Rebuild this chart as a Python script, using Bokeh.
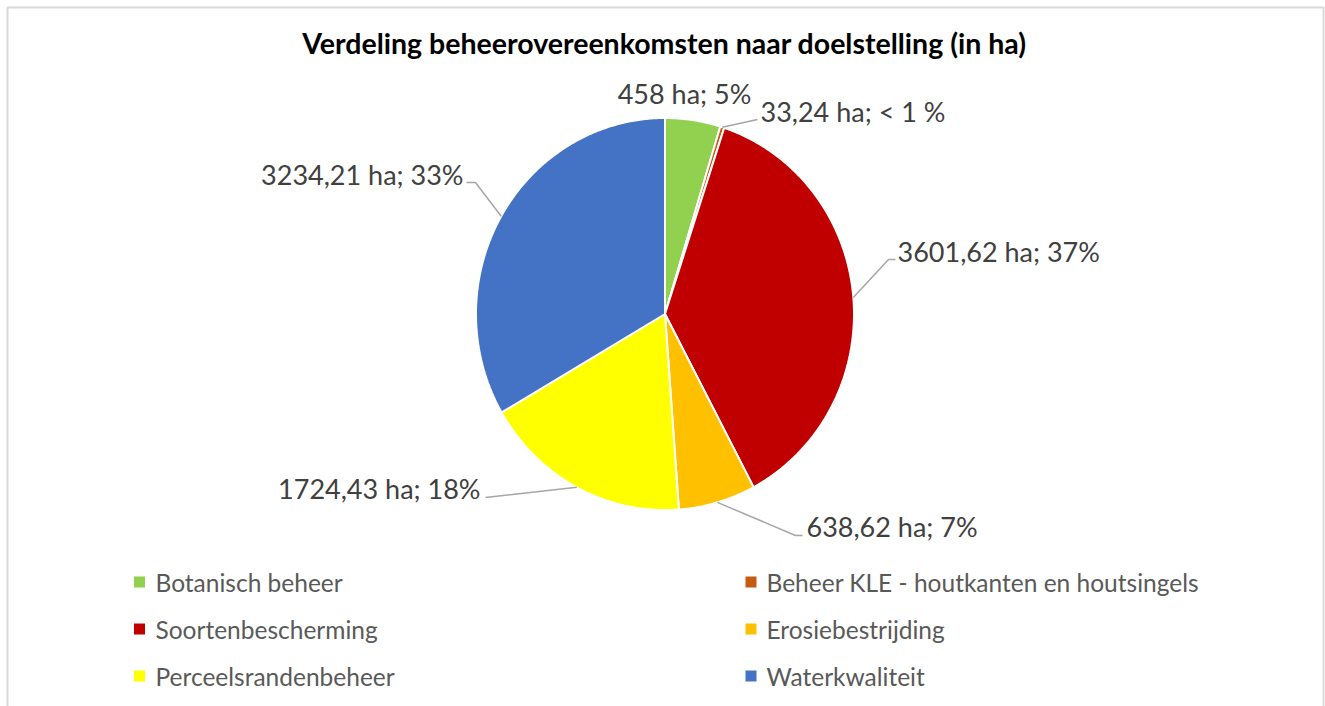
import numpy as np
from bokeh.plotting import figure
from bokeh.models import Range1d, ColumnDataSource
from bokeh.core.properties import value
from bokeh.embed import file_html
from bokeh.resources import INLINE

# ---------------- data ----------------
title_text = "Verdeling beheerovereenkomsten naar doelstelling (in ha)"
categories = ["Botanisch beheer", "Beheer KLE - houtkanten en houtsingels",
              "Soortenbescherming", "Erosiebestrijding",
              "Perceelsrandenbeheer", "Waterkwaliteit"]
values_ha = [458.0, 33.24, 3601.62, 638.62, 1724.43, 3234.21]
value_labels = ["458 ha", "33,24 ha", "3601,62 ha", "638,62 ha", "1724,43 ha", "3234,21 ha"]
pct_labels = ["5%", "< 1 %", "37%", "7%", "18%", "33%"]
colors = ["#92D050", "#C55A11", "#C00000", "#FFC000", "#FFFF00", "#4472C4"]

# ---------------- layout (screen pixels) ----------------
W, H = 1325, 706
CX, CY = 664.5, 313.5
RX, RY = 189.0, 196.0
FONT = "Lato"
TXT_DY = -9.5   # compensation for baseline placement

# label anchor (x, baseline y, align)
label_pos = [(684, 102, "center"), (760, 120, "left"), (897, 260, "left"),
             (806, 535, "left"), (480, 497, "right"), (463, 183, "right")]
# leader line points after the slice edge point
leader_pts = [[], [(757, 119)], [(888, 259), (895, 259)],
              [(795, 535), (802, 535)], [(485, 497)], [(475, 182), (466, 182)]]

p = figure(width=W, height=H, output_backend="svg", toolbar_location=None,
           x_range=Range1d(0, W), y_range=Range1d(H, 0),
           x_axis_location=None, y_axis_location=None,
           min_border=0, min_border_left=0, min_border_right=0,
           min_border_top=0, min_border_bottom=0)
p.grid.visible = False
p.outline_line_color = None
p.background_fill_color = "white"
p.border_fill_color = "white"

# ---------------- pie slices ----------------
vals = np.array(values_ha)
frac = vals / vals.sum()
ends = np.cumsum(frac)
starts = ends - frac
xs, ys = [], []
for s, e in zip(starts, ends):
    n = max(4, int((e - s) * 720))
    t = np.linspace(s, e, n) * 2 * np.pi
    xs.append(list(np.concatenate([[CX], CX + RX * np.sin(t), [CX]])))
    ys.append(list(np.concatenate([[CY], CY - RY * np.cos(t), [CY]])))
p.patches(xs, ys, fill_color=colors, line_color="white", line_width=2)

# ---------------- leader lines ----------------
mids = (starts + ends) / 2 * 2 * np.pi
lx, ly = [], []
for i, m in enumerate(mids):
    if not leader_pts[i]:
        continue
    ex, ey = CX + RX * np.sin(m), CY - RY * np.cos(m)
    lx.append([ex] + [q[0] for q in leader_pts[i]])
    ly.append([ey] + [q[1] for q in leader_pts[i]])
p.multi_line(lx, ly, line_color="#A6A6A6", line_width=1.5)

# ---------------- data labels ----------------
labels = [f"{v}; {pc}" for v, pc in zip(value_labels, pct_labels)]
for align in ["left", "right", "center"]:
    idx = [i for i in range(len(labels)) if label_pos[i][2] == align]
    src = ColumnDataSource(dict(x=[label_pos[i][0] for i in idx],
                                y=[label_pos[i][1] + TXT_DY for i in idx],
                                t=[labels[i] for i in idx]))
    p.text(x="x", y="y", text="t", source=src, text_align=align,
           text_baseline="alphabetic", text_font=value(FONT),
           text_font_size="27px", text_color="#404040")

# ---------------- title ----------------
p.text(x=[664], y=[52 + TXT_DY], text=[title_text], text_align="center",
       text_baseline="alphabetic", text_font=value(FONT),
       text_font_size="28.5px", text_font_style="bold", text_color="#000000")

# ---------------- legend ----------------
col_marker_x = [139, 750.5]
col_text_x = [155, 766]
row_base_y = [591, 638, 685]
mx = [col_marker_x[i % 2] for i in range(len(categories))]
my = [row_base_y[i // 2] - 9.5 for i in range(len(categories))]
tx = [col_text_x[i % 2] for i in range(len(categories))]
ty = [row_base_y[i // 2] + TXT_DY for i in range(len(categories))]
p.rect(x=mx, y=my, width=11, height=11, fill_color=colors, line_color=None)
p.text(x=tx, y=ty, text=categories, text_align="left", text_baseline="alphabetic",
       text_font=value(FONT), text_font_size="24.5px", text_color="#595959")

# ---------------- chart border ----------------
p.line(x=[7, 7, 1323, 1323], y=[706, 7, 7, 706], line_color="#D9D9D9", line_width=2)

open("out.html", "w").write(file_html(p, INLINE))
